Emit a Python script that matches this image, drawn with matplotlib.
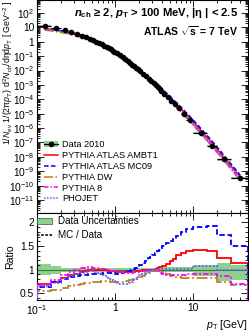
import numpy as np
import matplotlib
matplotlib.use("Agg")
import matplotlib.pyplot as plt
from matplotlib.ticker import LogLocator, FuncFormatter, MultipleLocator, NullFormatter
from matplotlib.patches import Patch
from matplotlib.lines import Line2D

plt.rcParams['font.family'] = ['Liberation Sans', 'DejaVu Sans']
plt.rcParams['mathtext.fontset'] = 'custom'
plt.rcParams['mathtext.rm'] = 'Liberation Sans'
plt.rcParams['mathtext.it'] = 'Liberation Sans:italic'
plt.rcParams['mathtext.bf'] = 'Liberation Sans:bold'
plt.rcParams['mathtext.bfit'] = 'Liberation Sans:italic:bold'

# pT bin edges [GeV]
edges = np.array([0.1, 0.15, 0.2, 0.25, 0.3, 0.35, 0.4, 0.45, 0.5, 0.55, 0.6, 0.65,
                  0.7, 0.75, 0.8, 0.85, 0.9, 0.95, 1.0, 1.1, 1.2, 1.3, 1.4, 1.5, 1.6,
                  1.7, 1.8, 1.9, 2.0, 2.2, 2.4, 2.6, 2.8, 3.0, 3.2, 3.4, 3.6, 3.8, 4.0,
                  4.5, 5.0, 5.5, 6.0, 7.0, 8.0, 10.0, 15.0, 20.0, 30.0, 50.0])

# Data 2010: 1/Nev 1/(2 pi pT) d2N/deta dpT [GeV^-2]
data = np.array([12.0, 8.68, 6.37, 4.73, 3.56, 2.72, 2.09, 1.63, 1.28, 1.01, 0.811,
                 0.653, 0.529, 0.432, 0.354, 0.292, 0.243, 0.203, 0.156, 0.112,
                 0.0813, 0.0601, 0.0450, 0.0341, 0.0261, 0.0203, 0.0158, 0.0125,
                 8.91e-3, 5.81e-3, 3.89e-3, 2.67e-3, 1.87e-3, 1.33e-3, 9.68e-4,
                 7.12e-4, 5.32e-4, 4.02e-4, 2.53e-4, 1.38e-4, 7.91e-5, 4.73e-5,
                 2.35e-5, 1.03e-5, 3.51e-6, 4.85e-7, 6.14e-8, 6.61e-9, 3.38e-10])

# data uncertainty band (relative, up / down)
band_up = np.array([0.13, 0.08] + [0.04] * 36 + [0.05] * 4 + [0.06] * 3 + [0.11, 0.11, 0.15, 0.09])
band_dn = np.array([0.12, 0.08] + [0.04] * 36 + [0.05] * 4 + [0.05] * 3 + [0.14, 0.14, 0.23, 0.21])

# MC / Data
r_ambt1 = np.array([0.70, 0.75, 0.83, 0.88, 0.92, 0.95, 0.97, 0.99, 1.00, 1.00, 1.00,
                    1.00, 0.99, 0.99, 0.98, 0.98, 0.97, 0.97, 0.96, 0.96, 0.96, 0.96,
                    0.96, 0.96, 0.96, 0.96, 0.97, 0.97, 0.98, 0.99, 1.00, 1.00, 1.00,
                    1.00, 1.02, 1.03, 1.05, 1.06, 1.08, 1.13, 1.18, 1.23, 1.32, 1.36,
                    1.40, 1.42, 1.39, 1.25, 1.14])
r_mc09 = np.array([0.64, 0.74, 0.81, 0.84, 0.86, 0.88, 0.89, 0.90, 0.91, 0.91, 0.92,
                   0.92, 0.93, 0.93, 0.93, 0.93, 0.93, 0.93, 0.92, 0.93, 0.94, 0.95,
                   0.97, 0.98, 1.00, 1.02, 1.04, 1.06, 1.09, 1.14, 1.19, 1.24, 1.28,
                   1.32, 1.36, 1.39, 1.42, 1.45, 1.50, 1.56, 1.61, 1.66, 1.72, 1.79,
                   1.86, 1.91, 1.92, 1.74, 1.51])
r_dw = np.array([0.54, 0.58, 0.62, 0.65, 0.68, 0.70, 0.72, 0.73, 0.74, 0.75, 0.75,
                 0.76, 0.76, 0.76, 0.76, 0.75, 0.75, 0.75, 0.75, 0.75, 0.75, 0.76,
                 0.77, 0.78, 0.79, 0.80, 0.81, 0.82, 0.84, 0.87, 0.90, 0.93, 0.95,
                 0.97, 0.98, 0.99, 0.99, 0.98, 0.95, 0.91, 0.87, 0.85, 0.84, 0.82,
                 0.82, 0.82, 0.82, 0.75, 0.67])
r_py8 = np.array([0.68, 0.78, 0.88, 0.95, 1.00, 1.03, 1.04, 1.05, 1.04, 1.04, 1.03,
                  1.02, 1.01, 1.00, 0.99, 0.98, 0.98, 0.97, 0.96, 0.95, 0.95, 0.94,
                  0.94, 0.94, 0.94, 0.95, 0.95, 0.96, 0.97, 0.98, 0.99, 0.99, 1.00,
                  1.00, 0.99, 0.98, 0.96, 0.94, 0.91, 0.89, 0.88, 0.88, 0.89, 0.89,
                  0.90, 0.90, 0.90, 0.87, 0.69])
r_phojet = np.array([0.66, 0.72, 0.80, 0.86, 0.91, 0.94, 0.96, 0.97, 0.97, 0.96, 0.94,
                     0.92, 0.89, 0.86, 0.83, 0.80, 0.78, 0.76, 0.73, 0.70, 0.69, 0.69,
                     0.70, 0.72, 0.75, 0.78, 0.81, 0.84, 0.88, 0.92, 0.95, 0.97, 0.99,
                     1.00, 1.01, 1.01, 1.01, 1.01, 1.01, 1.01, 1.01, 1.01, 1.01, 1.01,
                     1.01, 1.07, 1.07, 1.00, 0.99])

models = [
    ("PYTHIA ATLAS AMBT1", r_ambt1, "#ff0000", "-"),
    ("PYTHIA ATLAS MC09", r_mc09, "#0000ff", (0, (3, 1.5))),
    ("PYTHIA DW", r_dw, "#bb8322", (0, (6, 1.5, 1, 1.5))),
    ("PYTHIA 8", r_py8, "#ff00ff", (0, (3, 1.2, 1, 1.2))),
    ("PHOJET", r_phojet, "#6060ff", (0, (1, 1))),
]

green = "#8fd08f"
centers = 0.5 * (edges[:-1] + edges[1:])
xerr = [centers - edges[:-1], edges[1:] - centers]

fig = plt.figure(figsize=(2.49, 3.35), dpi=100)
ax = fig.add_axes([37 / 249, 122 / 335, 211 / 249, 213 / 335])
ax2 = fig.add_axes([37 / 249, 35 / 335, 211 / 249, 87 / 335], sharex=ax)

# ---- top panel
for lo, hi, y, up, dn in zip(edges[:-1], edges[1:], data, band_up, band_dn):
    ax.fill_between([lo, hi], y * (1 - dn), y * (1 + up), color=green, lw=0, zorder=2)
for name, r, col, ls in models:
    ax.plot(centers, data * r, color=col, ls=ls, lw=1.1, zorder=3)
ax.errorbar(centers, data, xerr=xerr, fmt='o', ms=3, color='k', elinewidth=0.9,
            capsize=0, zorder=4)

ax.set_xscale('log')
ax.set_yscale('log')
ax.set_xlim(0.1, 50)
ax.set_ylim(1.25e-12, 8e2)


def log_fmt(v, pos):
    e = int(round(np.log10(v)))
    if e == 0:
        return "1"
    if e == 1:
        return "10"
    return r"$10^{%d}$" % e


ax.yaxis.set_major_locator(LogLocator(base=10, numticks=30))
ax.yaxis.set_minor_locator(LogLocator(base=10, subs=np.arange(2, 10), numticks=30))
ax.yaxis.set_major_formatter(FuncFormatter(log_fmt))
ax.yaxis.set_minor_formatter(NullFormatter())

ax.set_ylabel(r"1/$N_{\mathrm{ev}}$ 1/(2π$p_{\mathrm{T}}$) d$^{2}N_{\mathrm{ch}}$/dηd$p_{\mathrm{T}}$ [ GeV$^{-2}$ ]",
              fontsize=6.3, ha='right')
ax.yaxis.set_label_coords(-0.105, 0.995)

ax.text(0.955, 0.94, r"$\mathbfit{n}_{\mathbf{ch}}$ ≥ 2, $\mathbfit{p}_{\mathbf{T}}$ > 100 MeV, |η | < 2.5",
        transform=ax.transAxes, ha='right', va='center', fontsize=8.1, fontweight='bold')
ax.text(0.955, 0.855, r"ATLAS $\sqrt{\mathbf{s}}$ = 7 TeV",
        transform=ax.transAxes, ha='right', va='center', fontsize=7.5, fontweight='bold')

handles = [(Patch(facecolor=green, edgecolor='none'),
            Line2D([], [], color='k', marker='o', ms=3, lw=0.9))]
labels = ["Data 2010"]
for name, r, col, ls in models:
    handles.append(Line2D([], [], color=col, ls=ls, lw=1.1))
    labels.append(name)
ax.legend(handles, labels, loc='lower left', bbox_to_anchor=(0.035, 0.045),
          frameon=False, fontsize=6.6, handlelength=1.5, handletextpad=0.45,
          labelspacing=0.2, borderpad=0, borderaxespad=0)

# ---- ratio panel
ax2.stairs(1 + band_up, edges, baseline=1 - band_dn, fill=True, color=green, zorder=1)
ax2.axhline(1.0, color="#3d7a3d", lw=0.8, zorder=2)
for name, r, col, ls in models:
    ax2.stairs(r, edges, color=col, ls=ls, lw=1.3, zorder=3)

ax2.set_ylim(0.36, 2.2)
ax2.yaxis.set_major_locator(MultipleLocator(0.5))
ax2.yaxis.set_minor_locator(MultipleLocator(0.1))
ax2.yaxis.set_major_formatter(FuncFormatter(lambda v, p: "%g" % v))
ax2.xaxis.set_major_formatter(FuncFormatter(log_fmt))
ax2.xaxis.set_minor_formatter(NullFormatter())
ax2.set_ylabel("Ratio", fontsize=7.6)
ax2.yaxis.set_label_coords(-0.105, 0.5)
ax2.set_xlabel(r"$p_{\mathrm{T}}$ [GeV]", fontsize=7.6, loc='right', labelpad=1)

rhandles = [Patch(facecolor=green, edgecolor="#3d7a3d", lw=0.6),
            Line2D([], [], color='k', ls=(0, (1.5, 1)), lw=1.2)]
ax2.legend(rhandles, ["Data Uncertainties", "MC / Data"], loc='upper left',
           bbox_to_anchor=(0.0, 0.96), frameon=False, fontsize=7.1, handlelength=1.5,
           handletextpad=0.6, labelspacing=0.4, borderpad=0, borderaxespad=0)

for a in (ax, ax2):
    a.tick_params(which='both', direction='in', top=True, right=True, labelsize=7.4,
                  width=0.6, pad=2)
    a.tick_params(which='major', length=5)
    a.tick_params(which='minor', length=2.5)
    for s in a.spines.values():
        s.set_linewidth(0.8)
ax.tick_params(labelbottom=False)

fig.savefig("out.png", dpi=100)
